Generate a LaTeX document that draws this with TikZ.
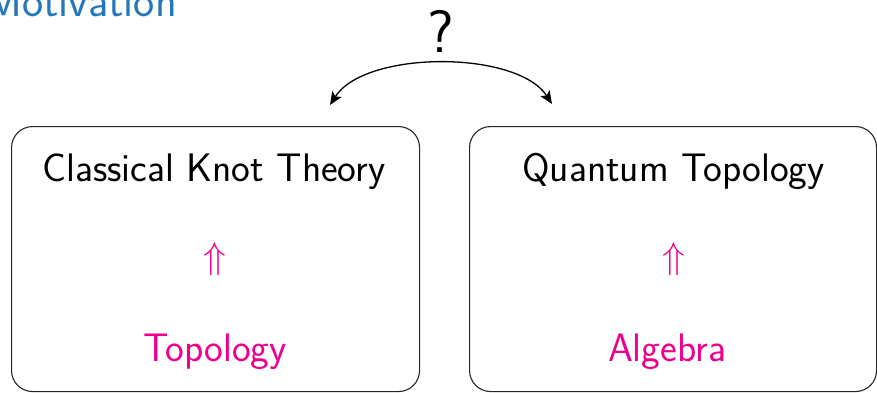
\documentclass[tikz,border=0pt]{standalone}
\usepackage{fontspec}
\usepackage{graphicx}
\usetikzlibrary{arrows.meta}
\definecolor{titleblue}{RGB}{38,120,190}
\definecolor{hotpink}{RGB}{236,0,140}
\tikzset{
  panel/.style={draw=black!85, line width=1.1pt, rounded corners=21pt},
  bigtext/.style={font=\sffamily\fontsize{39.8}{42}\selectfont, inner sep=0pt},
  pinktext/.style={bigtext, text=hotpink},
  link/.style={line width=1.3pt, {Stealth[length=13pt,width=11pt,inset=3pt]}-{Stealth[length=13pt,width=11pt,inset=3pt]}}
}
\begin{document}
\begin{tikzpicture}[x=1pt,y=1pt]
\useasboundingbox (0,0) rectangle (877,-393);
% title
\node[font=\sffamily\fontsize{45}{48}\selectfont, text=titleblue, inner sep=0pt, anchor=base east] (title) at (177,-17) {Motivation};
% panels
\node[panel, minimum width=408pt, minimum height=265pt, anchor=north west] (left) at (11,-126) {};
\node[panel, minimum width=407pt, minimum height=265pt, anchor=north west] (right) at (469,-126) {};
% texts
\node[bigtext, anchor=base] (ckt) at (214,-181) {Classical Knot Theory};
\node[bigtext, anchor=base] (qt) at (673.5,-181) {Quantum Topology};
\node[pinktext] (arrL) at (215,-259.5) {\scalebox{1.5}{$\Uparrow$}};
\node[pinktext] (arrR) at (674,-259.5) {\scalebox{1.5}{$\Uparrow$}};
\node[pinktext, anchor=base] (topo) at (215,-361.5) {Topology};
\node[pinktext, anchor=base] (alg) at (667,-361) {Algebra};
% question
\node[font=\sffamily\fontsize{60}{62}\selectfont, inner sep=0pt, anchor=base] (q) at (441,-53) {?};
\coordinate (pL) at (330,-105);
\coordinate (pR) at (552,-104);
\draw[link] (pL) .. controls (365,-50) and (517,-50) .. (pR);
\end{tikzpicture}
\end{document}
